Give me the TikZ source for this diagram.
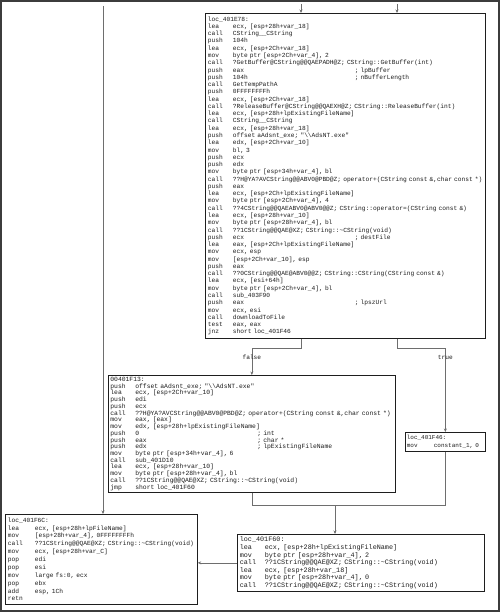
\documentclass[tikz,border=0pt]{standalone}
\usepackage{fontspec}
\setmonofont{Liberation Mono}
\usepackage{tikz}
\usetikzlibrary{arrows.meta, positioning, calc}
\definecolor{ink}{HTML}{1E1E1E}
\definecolor{wire}{HTML}{6E6E6E}
\definecolor{rim}{HTML}{3C3C3C}

\newcommand{\ins}[2]{\makebox[25bp][l]{#1}#2}
\newcommand{\insc}[3]{\makebox[25bp][l]{#1}\makebox[122bp][l]{#2}; #3}

\begin{document}
\begin{tikzpicture}[
    x=1bp, y=-1bp,
    block/.style={draw=ink, fill=white, line width=0.7bp, anchor=north west,
                  inner xsep=2.5bp, inner ysep=0pt, align=left, text=ink},
    arrow/.style={-{Stealth[length=3.5bp, width=3bp]}, draw=wire, line width=0.7bp},
    wire/.style={draw=wire, line width=0.7bp},
    lbl/.style={font=\fontsize{6.2}{7}\selectfont\ttfamily, text=ink, inner sep=0pt},
    frame/.style={draw=rim, line width=2bp}
]
  \useasboundingbox (0,0) rectangle (500,612);
  \draw[frame] (1,1) rectangle (499,611);

  \node[block, text width=275bp, minimum height=325bp,
        font=\fontsize{6.25}{7.3}\selectfont\ttfamily] (loctop) at (205,13) {%
loc\_401E78:\\
\ins{lea}{ecx, [esp+28h+var\_18]}\\
\ins{call}{CString\_\_CString}\\
\ins{push}{104h}\\
\ins{lea}{ecx, [esp+2Ch+var\_18]}\\
\ins{mov}{byte ptr [esp+2Ch+var\_4], 2}\\
\ins{call}{?GetBuffer@CString@@QAEPADH@Z; CString::GetBuffer(int)}\\
\insc{push}{eax}{lpBuffer}\\
\insc{push}{104h}{nBufferLength}\\
\ins{call}{GetTempPathA}\\
\ins{push}{0FFFFFFFFh}\\
\ins{lea}{ecx, [esp+2Ch+var\_18]}\\
\ins{call}{?ReleaseBuffer@CString@@QAEXH@Z; CString::ReleaseBuffer(int)}\\
\ins{lea}{ecx, [esp+28h+lpExistingFileName]}\\
\ins{call}{CString\_\_CString}\\
\ins{lea}{ecx, [esp+28h+var\_18]}\\
\ins{push}{offset aAdsnt\_exe; "\textbackslash\textbackslash AdsNT.exe"}\\
\ins{lea}{edx, [esp+2Ch+var\_10]}\\
\ins{mov}{bl, 3}\\
\ins{push}{ecx}\\
\ins{push}{edx}\\
\ins{mov}{byte ptr [esp+34h+var\_4], bl}\\
\ins{call}{??H@YA?AVCString@@ABV0@PBD@Z; operator+(CString const \&,char const *)}\\
\ins{push}{eax}\\
\ins{lea}{ecx, [esp+2Ch+lpExistingFileName]}\\
\ins{mov}{byte ptr [esp+2Ch+var\_4], 4}\\
\ins{call}{??4CString@@QAEABV0@ABV0@@Z; CString::operator=(CString const \&)}\\
\ins{lea}{ecx, [esp+28h+var\_10]}\\
\ins{mov}{byte ptr [esp+28h+var\_4], bl}\\
\ins{call}{??1CString@@QAE@XZ; CString::\textasciitilde CString(void)}\\
\insc{push}{ecx}{destFile}\\
\ins{lea}{eax, [esp+2Ch+lpExistingFileName]}\\
\ins{mov}{ecx, esp}\\
\ins{mov}{[esp+2Ch+var\_10], esp}\\
\ins{push}{eax}\\
\ins{call}{??0CString@@QAE@ABV0@@Z; CString::CString(CString const \&)}\\
\ins{lea}{ecx, [esi+64h]}\\
\ins{mov}{byte ptr [esp+2Ch+var\_4], bl}\\
\ins{call}{sub\_403F90}\\
\insc{push}{eax}{lpszUrl}\\
\ins{mov}{ecx, esi}\\
\ins{call}{downloadToFile}\\
\ins{test}{eax, eax}\\
\ins{jnz}{short loc\_401F46}};

  \node[block, text width=283bp, inner xsep=2bp, minimum height=117bp,
        font=\fontsize{6.4}{6.75}\selectfont\ttfamily] (blkF13) at (108,375) {%
00401F13:\\
\ins{push}{offset aAdsnt\_exe; "\textbackslash\textbackslash AdsNT.exe"}\\
\ins{lea}{ecx, [esp+2Ch+var\_10]}\\
\ins{push}{edi}\\
\ins{push}{ecx}\\
\ins{call}{??H@YA?AVCString@@ABV0@PBD@Z; operator+(CString const \&,char const *)}\\
\ins{mov}{eax, [eax]}\\
\ins{mov}{edx, [esp+28h+lpExistingFileName]}\\
\insc{push}{0}{int}\\
\insc{push}{eax}{char *}\\
\insc{push}{edx}{lpExistingFileName}\\
\ins{mov}{byte ptr [esp+34h+var\_4], 6}\\
\ins{call}{sub\_401D10}\\
\ins{lea}{ecx, [esp+28h+var\_10]}\\
\ins{mov}{byte ptr [esp+28h+var\_4], bl}\\
\ins{call}{??1CString@@QAE@XZ; CString::\textasciitilde CString(void)}\\
\ins{jmp}{short loc\_401F60}};

  \node[block, text width=77bp, inner xsep=1.5bp, minimum height=19bp,
        font=\fontsize{6.0}{7.5}\selectfont\ttfamily] (blk46) at (405,432) {%
loc\_401F46:\\
\makebox[27bp][l]{mov}constant\_1,~0};

  \node[block, text width=187bp, minimum height=90bp,
        font=\fontsize{6.25}{7.9}\selectfont\ttfamily] (blkF6C) at (5,514) {%
loc\_401F6C:\\
\makebox[27bp][l]{lea}ecx, [esp+28h+lpFileName]\\
\makebox[27bp][l]{mov}[esp+28h+var\_4], 0FFFFFFFFh\\
\makebox[27bp][l]{call}??1CString@@QAE@XZ; CString::\textasciitilde CString(void)\\
\makebox[27bp][l]{mov}ecx, [esp+28h+var\_C]\\
\makebox[27bp][l]{pop}edi\\
\makebox[27bp][l]{pop}esi\\
\makebox[27bp][l]{mov}large fs:0, ecx\\
\makebox[27bp][l]{pop}ebx\\
\makebox[27bp][l]{add}esp, 1Ch\\
retn};

  \node[block, text width=242bp, minimum height=57bp,
        font=\fontsize{6.8}{7.6}\selectfont\ttfamily] (blkF60) at (237,534) {%
loc\_401F60:\\
\ins{lea}{ecx, [esp+28h+lpExistingFileName]}\\
\ins{mov}{byte ptr [esp+28h+var\_4], 2}\\
\ins{call}{??1CString@@QAE@XZ; CString::\textasciitilde CString(void)}\\
\ins{lea}{ecx, [esp+28h+var\_18]}\\
\ins{mov}{byte ptr [esp+28h+var\_4], 0}\\
\ins{call}{??1CString@@QAE@XZ; CString::\textasciitilde CString(void)}};

  % incoming edges from blocks above the view
  \coordinate (inA) at (301,4);
  \coordinate (inB) at (397,4);
  \coordinate (inC) at (103,6);
  \draw[arrow] (inA) -- (inA |- loctop.north);
  \draw[arrow] (inB) -- (inB |- loctop.north);
  \draw[arrow] (inC) -- (inC |- blkF6C.north);

  % branches of jnz
  \draw[arrow] ([xshift=-44bp]loctop.south) -- ++(0,10) -| node[lbl, pos=0.667] {false} (blkF13.north);
  \draw[arrow] ([xshift=52bp]loctop.south) -- ++(0,10) -| node[lbl, pos=0.554] {true} (blk46.north);

  % join into loc_401F60
  \coordinate (join) at (335,505);
  \draw[wire] (blkF13.south) |- (join);
  \draw[wire] (blk46.south) |- (join);
  \draw[arrow] (join) -- (join |- blkF60.north);

  \draw[arrow] (blkF60.west) -- (blkF6C.east |- blkF60.west);
\end{tikzpicture}
\end{document}
